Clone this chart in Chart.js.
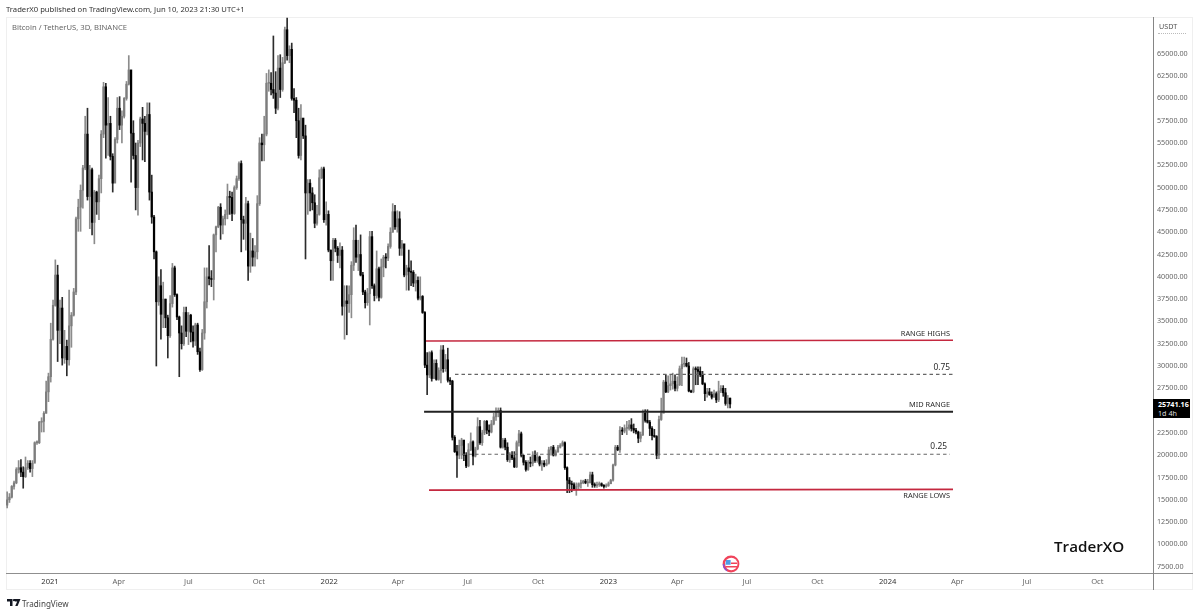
<!DOCTYPE html>
<html><head><meta charset="utf-8">
<style>
html,body{margin:0;padding:0;background:#fff;width:1200px;height:614px;overflow:hidden;font-family:"Noto Sans",sans-serif}
.t{position:absolute;white-space:nowrap}
#frame{position:absolute;left:6px;top:17px;width:1187px;height:573px;border:1px solid #efefef;box-sizing:border-box}
#hl{position:absolute;left:6px;top:572.5px;width:1187px;height:1.5px;background:#8f8f8f}
#vl{position:absolute;left:1152.5px;top:17px;width:1.5px;height:573px;background:#858585}
#dots{position:absolute;left:1158px;top:33px;width:28px;border-top:1px dotted #bbb}
#plabel{position:absolute;left:1153px;top:399px;width:37px;height:19px;background:#000;color:#fff;font-size:7.2px;line-height:9px}
canvas{position:absolute;left:0;top:0}
</style></head><body>
<div id="frame"></div>
<canvas id="c" width="1200" height="614"></canvas>
<div id="hl"></div><div id="vl"></div><div id="dots"></div>
<div class="t" style="left:6px;top:3px;font-size:7.65px;line-height:12px;color:#333">TraderX0 published on TradingView.com, Jun 10, 2023 21:30 UTC+1</div>
<div class="t" style="left:12px;top:21px;font-size:7.65px;line-height:12px;color:#666">Bitcoin / TetherUS, 3D, BINANCE</div>
<div class="t" style="left:1159px;top:20px;font-size:7.2px;line-height:12px;color:#555">USDT</div>
<div id="plabel"><div style="position:absolute;left:5px;top:1px;font-weight:700">25741.16</div><div style="position:absolute;left:5px;top:9.5px;color:#ddd">1d 4h</div></div>
<div class="t" style="left:1054px;top:535px;font-size:15.2px;line-height:22px;color:#111;font-family:'Open Sans',sans-serif;font-weight:600">TraderXO</div>
<div class="t" style="left:22px;top:597px;font-size:8.1px;line-height:13px;color:#444">TradingView</div>
<svg style="position:absolute;left:7px;top:599px" width="14" height="8" viewBox="0 0 14 8"><path d="M0 0H5.5V7H3V2.4H0Z M6.6 0H13.5L10.6 7H8.2L10.2 2.4H8Z" fill="#131722"/><circle cx="7" cy="1.2" r="1.1" fill="#131722"/></svg>
<svg style="position:absolute;left:722px;top:555px" width="18" height="18" viewBox="0 0 18 18">
<circle cx="9" cy="9" r="8.4" fill="#f0435b"/><circle cx="9.3" cy="9" r="6.2" fill="#fff"/>
<path d="M3.5 11h11.6v1.5H3.5z M9 7.6h6.2v1.5H9z" fill="#f0435b"/><path d="M4 5h4.6v4.8H3.4z" fill="#4d9de8"/><path d="M.7 9a8.4 8.4 0 0 0 4 7.2l.7-1.2A7 7 0 0 1 2.2 9z" fill="#8a4fd0"/></svg>

<script src="https://cdn.jsdelivr.net/npm/chart.js@4/dist/chart.umd.min.js"></script>
<script>
// Price data, USDT, 3-day candles (each opens at the previous close)
const firstOpen = 14400;
const firstCandleDay = -56;   // days relative to 1 Jan 2021
const closes = [
15000,15300,16500,16900,18400,18600,18100,17600,18600,19100,
18500,19100,21400,21400,23700,23800,24700,27100,28800,33000,
36800,40200,34000,36500,30900,32200,30700,34500,35700,38300,
46500,47800,49700,52200,56000,49000,52000,46100,49500,48400,
51000,56000,61300,57000,57200,53500,50500,55400,58900,57000,
58000,60000,61600,63200,56100,53600,50000,55000,57700,57200,
56300,58200,49500,46700,42800,37200,39000,35800,37500,35400,
33400,37000,41000,38000,35500,33700,32500,36000,33900,35700,
33800,32800,34600,31600,29600,33700,37200,40000,39800,39700,
44700,45600,47800,45800,46500,47000,49000,48900,47100,50000,
51000,52700,46400,46000,48200,41200,42900,42200,42800,48200,
55000,54800,56000,61700,61700,61000,60600,58900,63400,61000,
64000,67700,64800,65500,60000,59800,57500,53600,57800,55800,
49400,50500,49400,48300,46000,47000,51100,52100,46400,47000,
43000,41800,44100,43200,42400,43000,36700,37300,37000,38000,
41300,44100,42200,42500,40200,38300,37100,38100,44500,39000,
37900,40900,37700,41100,42200,42100,43400,45000,47300,45600,
46500,43200,43700,40200,41000,40600,40500,39300,39600,37600,
37800,36000,30100,29000,31500,28600,30300,28500,29500,31800,
29700,30700,28400,28300,22000,20400,20000,21100,21700,20000,
18800,20600,21500,19900,20700,23200,21400,22500,23800,22800,
22600,23500,24300,24800,25000,20900,21700,20900,19500,20000,
19700,18700,21400,22400,20000,19200,18400,19200,19100,20000,
19400,19800,19000,19100,18900,19100,20600,20900,20000,20400,
20900,21100,21400,18600,17200,16800,16700,16200,16500,16800,
16900,17100,16900,16900,17800,16700,16600,16700,16800,16600,
16500,16600,16800,17200,18900,20900,20600,22800,22700,23000,
23000,23400,23000,22800,22600,21900,22300,24700,23900,23700,
23000,22200,22100,20000,24000,24700,28200,27100,27800,28000,
28300,27500,27900,29700,30200,30300,30000,27200,27100,29700,
29600,29400,29000,28000,26900,27100,26800,26500,26900,26200,
27200,27500,27000,25800,26400,25741.16];
const highs = [
15900,15700,16600,17100,18600,19400,19500,18700,19800,19400,
19400,19400,21500,21600,23800,24200,24900,28300,29200,34800,
37400,41900,41300,37400,37700,34000,32900,38500,36000,38700,
46700,48700,50300,52500,58000,58900,52500,52200,49700,49600,
51400,56400,61800,61700,60100,58000,53800,55600,60100,60200,
58600,60100,61900,64800,62900,57500,55000,55300,57900,59000,
58000,59500,59500,51400,46900,42900,40000,40800,39400,37500,
35700,37900,41500,41200,38100,35600,34500,36600,36600,36000,
35800,34500,34800,34800,32000,34100,41000,41000,43500,40700,
44800,45700,47900,48200,46800,47500,50400,49600,49500,50200,
51300,52900,53000,46800,48900,48500,44900,44300,43500,49100,
55600,56000,58000,62800,63200,62900,67000,63000,64800,64900,
64600,68000,69000,65900,66200,61100,60100,58900,59300,57700,
57000,50900,50900,50000,49200,48000,52000,52300,52300,48400,
47400,43000,44300,44300,43400,43800,43400,39000,39000,39000,
41700,45500,45800,44100,44700,40500,38500,38700,45100,45100,
39200,42900,41100,42000,42400,42600,43700,45500,48200,48000,
47400,47300,44100,42800,41300,43000,41800,40700,40300,40000,
40000,37900,36100,31500,31600,31700,30700,30700,29800,32300,
32300,31300,32000,28700,28400,22200,21100,21700,21900,21400,
20300,21300,22500,21600,20900,24200,23900,22800,23900,23900,
23400,23900,24700,25300,25300,25300,21900,21900,21400,20300,
20400,20400,21600,22800,22600,20000,19400,19400,19800,20400,
20500,20300,19900,19400,19400,19500,20900,21000,21100,20600,
21100,21300,21600,21500,18700,17500,17100,16900,16900,16900,
17200,17200,17300,17300,18100,18100,16900,17000,17000,16900,
16700,16800,17000,17300,19000,21100,21100,23200,23100,23400,
23800,23900,24100,23500,23000,22700,22600,25100,25100,25100,
23900,23200,22900,22200,24400,26400,28400,29000,28900,29000,
29200,29000,28800,30000,31000,31000,30900,30400,27300,29900,
29900,29900,29900,29400,28100,27500,27500,27100,27300,27100,
28300,27800,27800,27500,26700,26400];
const lows = [
14100,14700,15200,16200,16800,18000,17600,16300,17500,18400,
18100,17600,19300,21200,21300,22600,22600,24700,26000,28200,
32900,36700,30500,32500,30100,30300,28900,30100,32100,35600,
38000,45100,45100,47700,52000,48600,45400,44700,43700,47000,
46400,49400,55600,53300,53600,53100,49500,50600,55000,56500,
55000,57800,59800,61500,50600,53200,47500,46900,54600,53100,
52900,55900,48600,46000,42000,30000,36800,33000,34300,34300,
30900,33200,36600,37800,35200,28800,31900,32300,33300,32400,
32700,32100,32300,31300,29400,29500,33000,36500,39100,38900,
37400,42800,45500,44200,44800,45800,46500,47000,46300,47000,
49800,50800,42800,44200,43000,39600,40500,41200,41200,42000,
48000,53000,53000,55800,60800,60400,60000,58300,58700,60100,
60800,63900,64300,64000,59800,58400,55600,53300,53100,55500,
42000,47000,47400,47500,45500,45800,46900,51000,46100,45800,
42800,39600,39600,42800,41600,41000,35700,33000,33500,36000,
35400,40700,41600,40700,40100,38000,36500,36800,34600,38700,
37300,37600,37300,37600,40000,41000,41800,43200,45000,45300,
45000,42400,42400,40000,38500,38500,39000,38900,38400,37400,
37400,35900,29800,26800,28700,28300,28600,28400,28400,28100,
29300,29400,28200,27900,21700,20300,17500,19600,19600,19400,
18600,18700,20500,18900,19800,20600,21200,21100,22300,22400,
22200,22500,23400,23900,24300,20800,20800,20600,19300,19200,
19500,18600,18600,21000,19800,18900,18200,18300,18700,18800,
19200,19200,18800,18300,18700,18800,19000,20000,19900,19900,
20300,20800,21000,18400,15800,15800,15900,16100,15500,16200,
16300,16800,16800,16500,16900,16400,16400,16400,16500,16500,
16300,16400,16500,16800,17100,18800,20500,20300,22300,22500,
22300,22800,22700,22500,22400,21400,21500,22200,23700,23600,
22200,21700,22000,19600,19600,23900,24800,27000,27000,27300,
27400,27200,27200,27800,27800,29900,29900,27100,27000,27000,
27900,27900,28800,27900,26100,26500,26700,26300,26500,25900,
26000,27000,26600,25600,25300,25300];

const tickDays = [0,90,181,273,365,455,546,638,730,820,911,1003,1095,1186,1277,1369];
const tickLabels = ["2021","Apr","Jul","Oct","2022","Apr","Jul","Oct","2023","Apr","Jul","Oct","2024","Apr","Jul","Oct"];
const yearTicks = ["2021","2022","2023","2024"];
const priceTicks = [7500,10000,12500,15000,17500,20000,22500,25000,27500,30000,32500,35000,37500,40000,42500,45000,47500,50000,52500,55000,57500,60000,62500,65000];

const rangeHighsDays = [491.5,1180.4];  const rangeHighsPrices = [32800,32880];
const level75Days = [529.4,1180.4];     const level75Prices = [29060,29060];
const midRangeDays = [489,1180.4];      const midRangePrices = [24870,24870];
const level25Days = [538.6,1176.5];     const level25Prices = [20110,20110];
const rangeLowsDays = [495.4,1180.4];   const rangeLowsPrices = [16080,16170];

const noteTexts = ["RANGE HIGHS","0.75","MID RANGE","0.25","RANGE LOWS"];
const noteDays = [1176.5,1176.5,1176.5,1172.5,1176.5];
const notePrices = [33590,29770,25630,20920,15430];

const days = closes.map((_, i) => firstCandleDay + i * 3);
const opens = closes.map((_, i) => i === 0 ? firstOpen : closes[i - 1]);
const isUp = i => closes[i] >= opens[i];
const pairs = (xs, ys) => xs.map((x, i) => ({x, y: ys[i]}));
const UP = '#7d7d7d', DOWN = '#000000', UPW = '#8c8c8c', DOWNW = '#2c2c2c', RED = '#c4283f';

const levelLine = (xs, ys, color, width, dash) => ({
  type:'line', data:pairs(xs, ys), borderColor:color, borderWidth:width, borderDash:dash||[],
  pointRadius:0, tension:0, order:0
});

const notesPlugin = {
  id:'notes',
  afterDatasetsDraw(ch){
    const {ctx, scales:{x, y}} = ch;
    ctx.save();
    ctx.fillStyle = '#2a2a2a';
    ctx.textAlign = 'right';
    ctx.textBaseline = 'middle';
    noteTexts.forEach((t, i) => {
      ctx.font = (/^[0-9.]+$/.test(t) ? '8.4' : '7.4') + 'px "Noto Sans", sans-serif';
      ctx.fillText(t, x.getPixelForValue(noteDays[i]), y.getPixelForValue(notePrices[i]));
    });
    ctx.restore();
  }
};

new Chart(document.getElementById('c'), {
  type:'bar',
  data:{ datasets:[
    levelLine(rangeHighsDays, rangeHighsPrices, RED, 1.6),
    levelLine(level75Days, level75Prices, '#666', 1.1, [3.5,3]),
    levelLine(midRangeDays, midRangePrices, '#222', 2),
    levelLine(level25Days, level25Prices, '#666', 1.1, [3.5,3]),
    levelLine(rangeLowsDays, rangeLowsPrices, RED, 1.6),
    { data:days.map((d, i) => ({x:d, y:[lows[i], highs[i]]})), barThickness:1, grouped:false, order:2,
      backgroundColor:days.map((_, i) => isUp(i) ? UPW : DOWNW), borderWidth:0 },
    { data:days.map((d, i) => ({x:d, y:[opens[i], closes[i]]})), barThickness:1.6, grouped:false, order:1, minBarLength:1,
      backgroundColor:days.map((_, i) => isUp(i) ? UP : DOWN), borderWidth:0 }
  ]},
  plugins:[notesPlugin],
  options:{
    responsive:false, animation:false, devicePixelRatio:1,
    layout:{padding:{left:6, top:17, right:7, bottom:24}},
    plugins:{legend:{display:false}, tooltip:{enabled:false}, title:{display:false}},
    scales:{
      x:{ type:'linear', offset:false, min:-57.5, max:1441.8,
          grid:{display:false, drawTicks:false}, border:{display:false},
          afterBuildTicks(s){ s.ticks = tickDays.map(v => ({value:v})); },
          afterFit(s){ s.height = 17; },
          ticks:{ autoSkip:false, maxRotation:0, padding:4,
            font:{size:7.6, family:'"Noto Sans", sans-serif'},
            color:c => yearTicks.includes(tickLabels[c.index]) ? '#333' : '#666',
            callback:(v, i) => tickLabels[i] } },
      y:{ type:'linear', position:'right', min:6794, max:69127,
          grid:{display:false, drawTicks:false}, border:{display:false},
          afterBuildTicks(s){ s.ticks = priceTicks.map(v => ({value:v})); },
          afterFit(s){ s.width = 40; },
          ticks:{ autoSkip:false, padding:4, font:{size:7.2, family:'"Noto Sans", sans-serif'}, color:'#666',
            callback:v => Number(v).toFixed(2) } }
    }
  }
});
</script>
</body></html>
